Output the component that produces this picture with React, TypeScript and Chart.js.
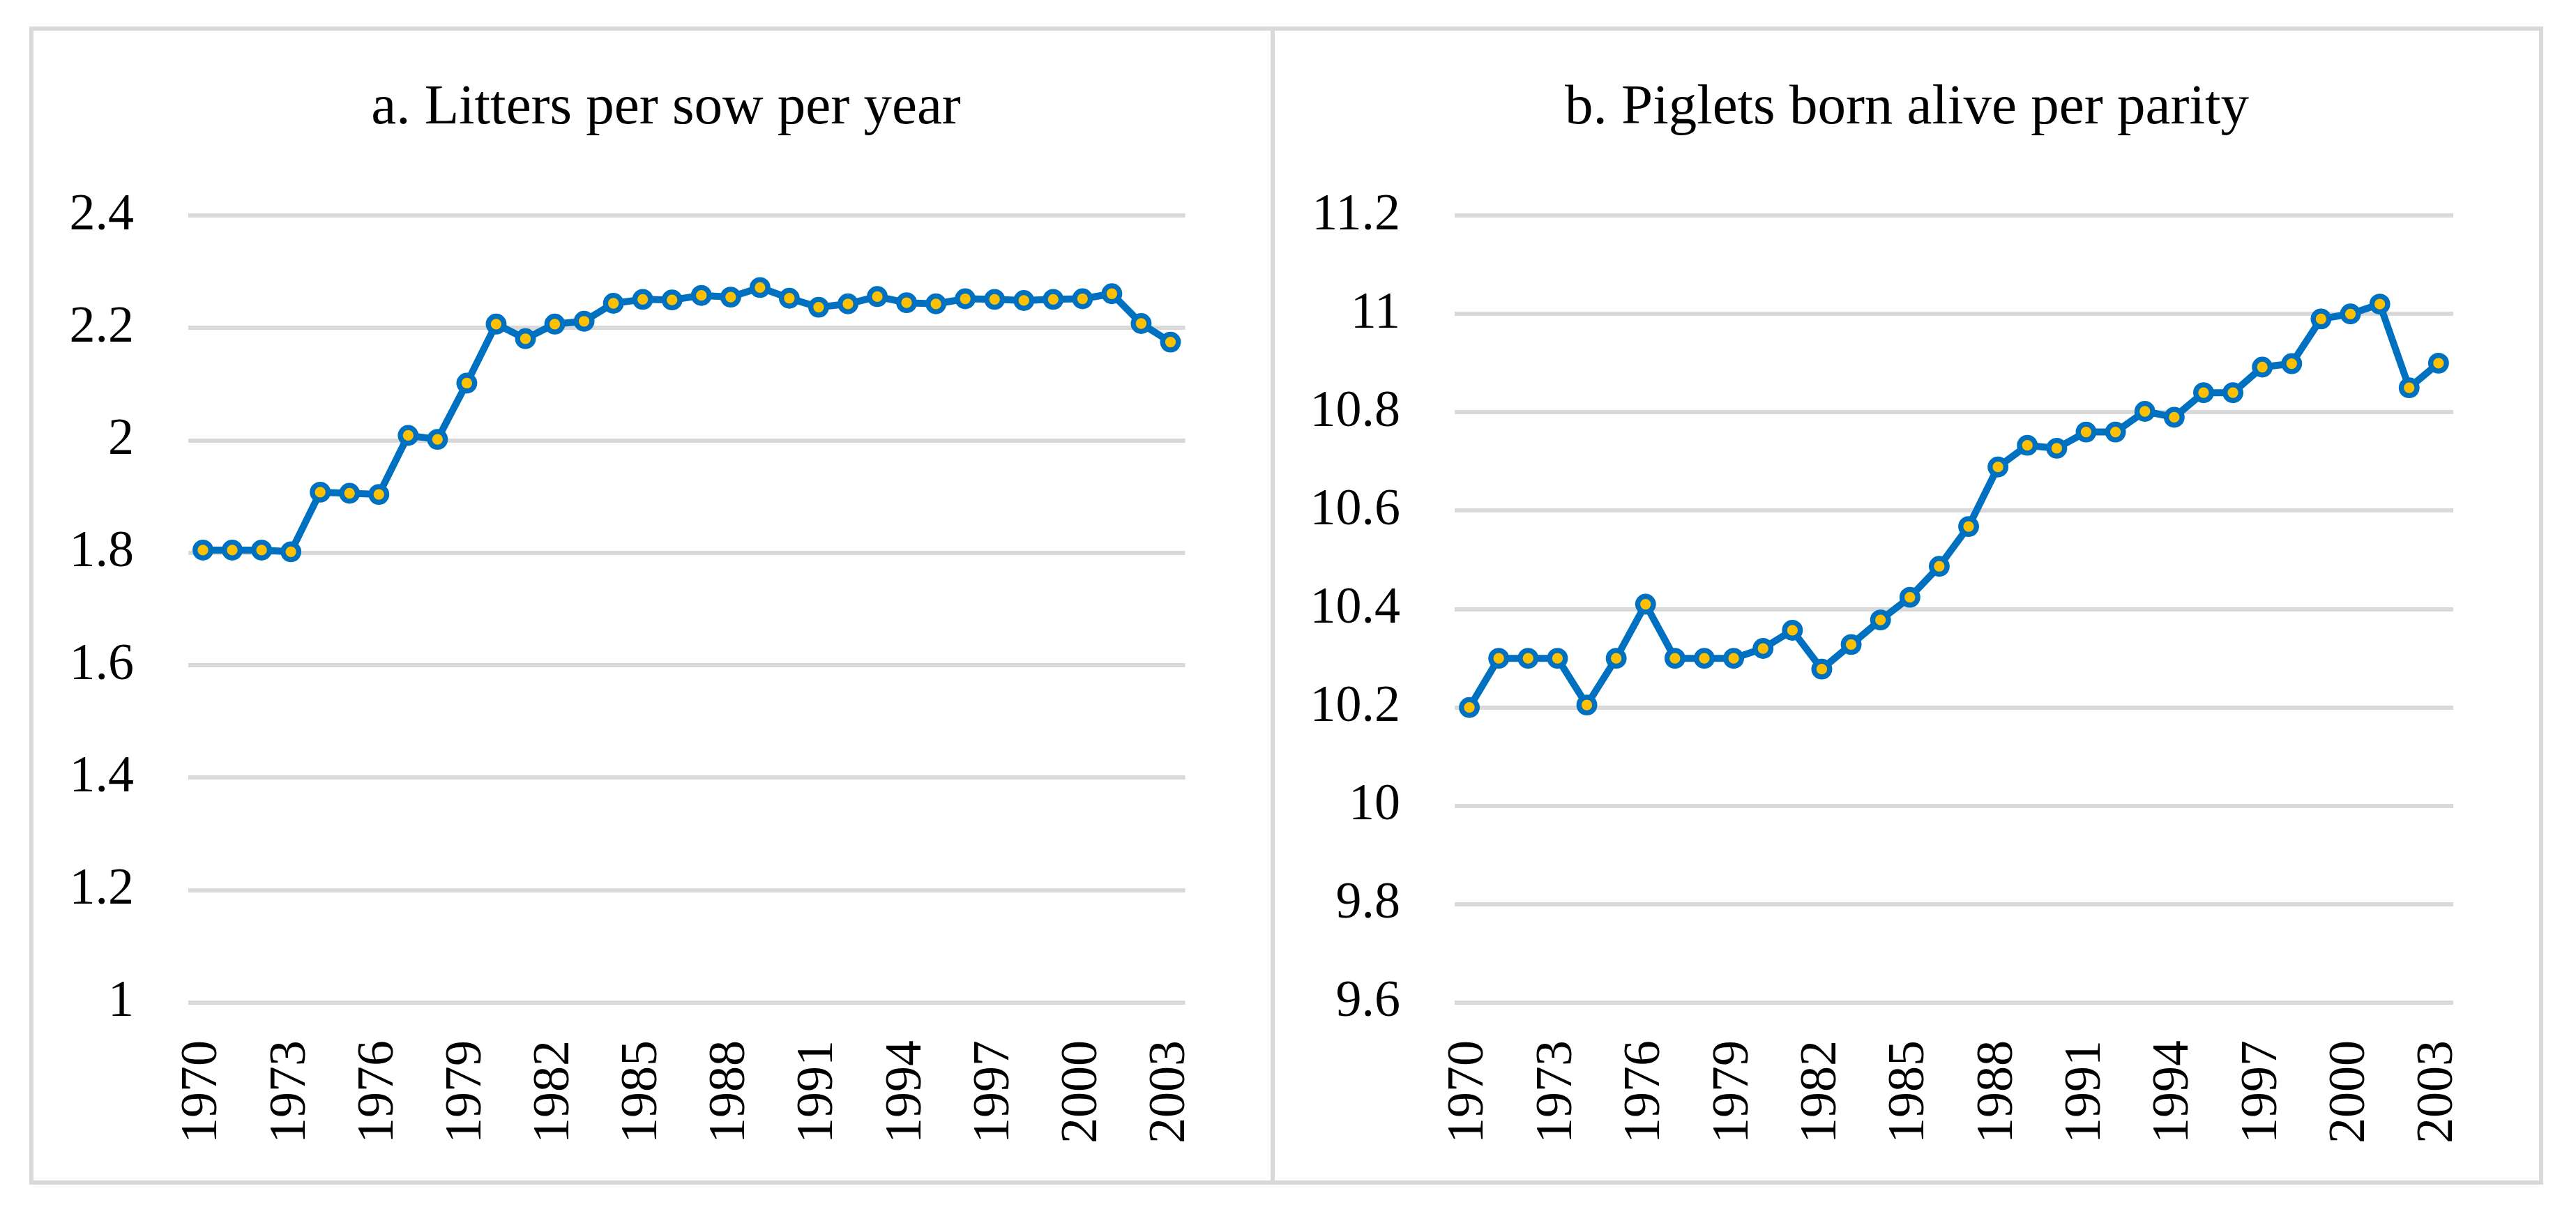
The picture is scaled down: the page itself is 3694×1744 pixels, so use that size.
import React, { useEffect, useRef } from "react";
import { Chart, registerables } from "chart.js";

Chart.register(...registerables);

const years = [
  "1970", "1971", "1972", "1973", "1974", "1975", "1976", "1977", "1978", "1979",
  "1980", "1981", "1982", "1983", "1984", "1985", "1986", "1987", "1988", "1989",
  "1990", "1991", "1992", "1993", "1994", "1995", "1996", "1997", "1998", "1999",
  "2000", "2001", "2002", "2003",
];

const shownYears = ["1970", "1973", "1976", "1979", "1982", "1985", "1988", "1991", "1994", "1997", "2000", "2003"];

const littersPerSow = [
  1.805, 1.805, 1.805, 1.802, 1.908, 1.906, 1.904, 2.009, 2.002, 2.102,
  2.207, 2.181, 2.207, 2.212, 2.244, 2.251, 2.25, 2.258, 2.255, 2.272,
  2.253, 2.237, 2.243, 2.256, 2.245, 2.243, 2.252, 2.251, 2.249, 2.251,
  2.252, 2.261, 2.208, 2.175,
];

const pigletsPerParity = [
  10.2, 10.3, 10.3, 10.3, 10.205, 10.3, 10.41, 10.3, 10.3, 10.3,
  10.32, 10.357, 10.278, 10.328, 10.378, 10.424, 10.487, 10.568, 10.689, 10.733,
  10.727, 10.76, 10.76, 10.802, 10.79, 10.84, 10.84, 10.892, 10.899, 10.99,
  11.0, 11.02, 10.85, 10.9,
];

const ticksA = [1, 1.2, 1.4, 1.6, 1.8, 2, 2.2, 2.4];
const ticksB = [9.6, 9.8, 10, 10.2, 10.4, 10.6, 10.8, 11, 11.2];

const titleA = "a. Litters per sow per year";
const titleB = "b. Piglets born alive per parity";

const FONT = "'Liberation Serif', 'Times New Roman', serif";
const LINE_BLUE = "#0070C0";
const MARKER_YELLOW = "#FFC000";
const GRID_GREY = "#d9d9d9";

type PanelProps = {
  title: string;
  values: number[];
  ticks: number[];
  left: number;
  top: number;
  width: number;
  height: number;
  padLeft: number;
  rightSpace: number;
  yWidth: number;
};

function Panel(props: PanelProps) {
  const ref = useRef<HTMLCanvasElement | null>(null);
  useEffect(() => {
    const canvas = ref.current;
    if (!canvas) return;
    const tks = props.ticks;
    const chart = new Chart(canvas, {
      type: "line",
      data: {
        labels: years,
        datasets: [
          {
            data: props.values,
            yAxisID: "y",
            borderColor: LINE_BLUE,
            backgroundColor: MARKER_YELLOW,
            borderWidth: 10,
            borderJoinStyle: "round",
            borderCapStyle: "round",
            pointBackgroundColor: MARKER_YELLOW,
            pointBorderColor: LINE_BLUE,
            pointRadius: 11.3,
            pointHoverRadius: 11.3,
            pointBorderWidth: 7.3,
            tension: 0,
            fill: false,
          },
        ],
      },
      options: {
        responsive: false,
        animation: false,
        devicePixelRatio: 1,
        events: [],
        layout: { padding: { left: props.padLeft, right: 0, top: 0, bottom: 0 } },
        plugins: {
          legend: { display: false },
          tooltip: { enabled: false },
          title: {
            display: true,
            text: props.title,
            color: "#000",
            font: { family: FONT, size: 81, weight: "normal", lineHeight: 1.2 },
            padding: { top: 63, bottom: 105 },
          },
        },
        scales: {
          x: {
            type: "category",
            offset: true,
            grid: { display: false, drawTicks: false },
            border: { display: false },
            ticks: {
              autoSkip: false,
              minRotation: 90,
              maxRotation: 90,
              padding: 54,
              color: "#000",
              font: { family: FONT, size: 74 },
              callback: function (_v: any, i: number) {
                const l = years[i];
                return shownYears.includes(l) ? l : "";
              },
            },
            afterFit: (s: any) => {
              s.height = 255;
            },
          },
          y: {
            type: "linear",
            position: "left",
            min: tks[0],
            max: tks[tks.length - 1],
            afterBuildTicks: (s: any) => {
              s.ticks = tks.map((v) => ({ value: v }));
            },
            grid: { color: GRID_GREY, lineWidth: 6, drawTicks: false },
            border: { display: false },
            ticks: {
              padding: 78,
              color: "#000",
              font: { family: FONT, size: 74 },
              callback: (v: any) => String(Number(Number(v).toFixed(1))),
            },
            afterFit: (s: any) => {
              s.width = props.yWidth;
            },
          },
          yRightSpace: {
            type: "linear",
            position: "right",
            display: true,
            grid: { display: false, drawTicks: false },
            border: { display: false },
            ticks: { display: false },
            afterFit: (s: any) => {
              s.width = props.rightSpace;
            },
          },
        },
      },
    } as any);
    return () => chart.destroy();
  }, []);
  return (
    <canvas
      ref={ref}
      width={props.width}
      height={props.height}
      style={{
        position: "absolute",
        left: props.left,
        top: props.top,
        width: props.width,
        height: props.height,
        display: "block",
      }}
    />
  );
}

export default function App() {
  return (
    <div
      style={{
        position: "absolute",
        left: 0,
        top: 0,
        width: 3694,
        height: 1744,
        background: "#ffffff",
        overflow: "hidden",
      }}
    >
      <div
        style={{
          position: "absolute",
          left: 42,
          top: 38,
          width: 3605,
          height: 1661,
          border: `6px solid ${GRID_GREY}`,
          boxSizing: "border-box",
        }}
      />
      <div
        style={{
          position: "absolute",
          left: 1822,
          top: 38,
          width: 6,
          height: 1661,
          background: GRID_GREY,
        }}
      />
      <Panel
        title={titleA}
        values={littersPerSow}
        ticks={ticksA}
        left={48}
        top={44}
        width={1774}
        height={1649}
        padLeft={40}
        rightSpace={49}
        yWidth={182}
      />
      <Panel
        title={titleB}
        values={pigletsPerParity}
        ticks={ticksB}
        left={1828}
        top={44}
        width={1813}
        height={1649}
        padLeft={0}
        rightSpace={90}
        yWidth={258}
      />
    </div>
  );
}
